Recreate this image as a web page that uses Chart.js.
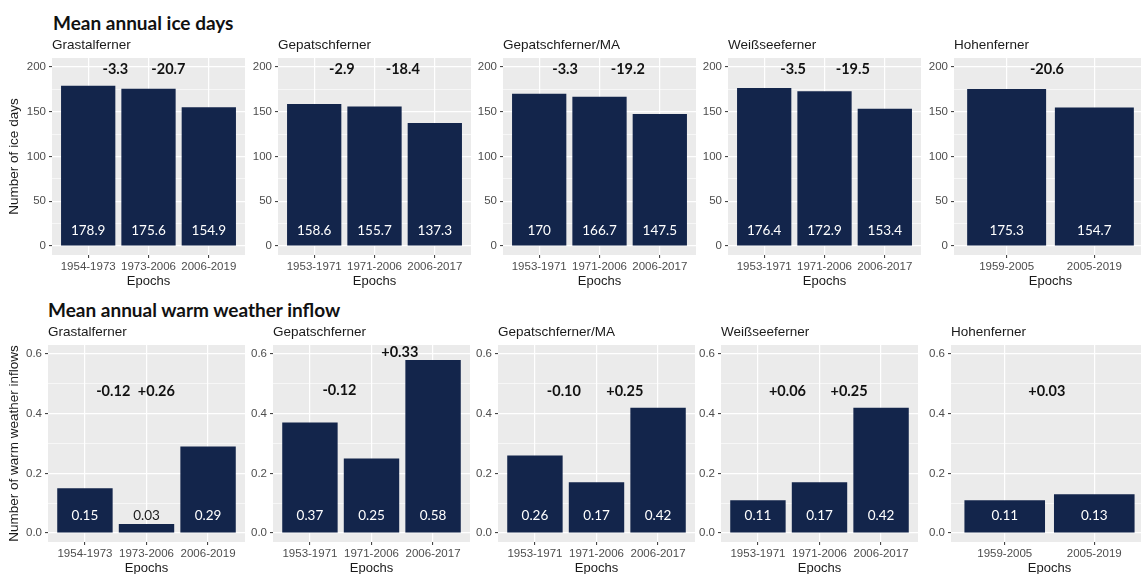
<!DOCTYPE html>
<html>
<head>
<meta charset="utf-8">
<script src="https://cdn.jsdelivr.net/npm/chart.js@4.4.1/dist/chart.umd.min.js"></script>
<style>
html, body { margin: 0; padding: 0; background: #fff; overflow: hidden; }
#wrap { position: relative; width: 1141px; height: 574px; overflow: hidden; }
canvas { position: absolute; }
.head { position: absolute; font-family: Lato, sans-serif; font-weight: 700; font-size: 19px; color: #111; white-space: nowrap; line-height: 1; }
</style>
</head>
<body>
<div id="wrap">
  <div class="head" style="left:53px;top:13px">Mean annual ice days</div>
  <div class="head" style="left:48px;top:300px">Mean annual warm weather inflow</div>
</div>
<script>
// glaciers and their epochs
var glaciers = ['Grastalferner', 'Gepatschferner', 'Gepatschferner/MA', 'Weißseeferner', 'Hohenferner'];
var epochs = [
    ['1954-1973', '1973-2006', '2006-2019'],
    ['1953-1971', '1971-2006', '2006-2017'],
    ['1953-1971', '1971-2006', '2006-2017'],
    ['1953-1971', '1971-2006', '2006-2017'],
    ['1959-2005', '2005-2019']
];

// mean annual ice days
var iceDays = [
    [178.9, 175.6, 154.9],
    [158.6, 155.7, 137.3],
    [170, 166.7, 147.5],
    [176.4, 172.9, 153.4],
    [175.3, 154.7]
];
var iceDiffs = [['-3.3', '-20.7'], ['-2.9', '-18.4'], ['-3.3', '-19.2'], ['-3.5', '-19.5'], ['-20.6']];
var iceDiffX = [[1.45, 2.33], [1.46, 2.47], [1.43, 2.47], [1.48, 2.47], [1.46]];
var iceDiffY = [[197, 197], [197, 197], [197, 197], [197, 197], [197]];
var iceTicks = [0, 50, 100, 150, 200];

// mean annual warm weather inflows
var warmInflows = [
    [0.15, 0.03, 0.29],
    [0.37, 0.25, 0.58],
    [0.26, 0.17, 0.42],
    [0.11, 0.17, 0.42],
    [0.11, 0.13]
];
var warmDiffs = [['-0.12', '+0.26'], ['-0.12', '+0.33'], ['-0.10', '+0.25'], ['+0.06', '+0.25'], ['+0.03']];
var warmDiffX = [[1.46, 2.16], [1.48, 2.46], [1.47, 2.46], [1.48, 2.48], [1.47]];
var warmDiffY = [[0.475, 0.475], [0.477, 0.607], [0.475, 0.475], [0.475, 0.475], [0.475]];
var warmTicks = [0, 0.2, 0.4, 0.6];

var NAVY = '#13254b';
var SANS = '"Liberation Sans", Arial, sans-serif';

// grey panel, panel name, value labels and differences
var panelText = {
    id: 'panelText',
    beforeDraw: function (chart, args, o) {
        var a = chart.chartArea, c = chart.ctx;
        c.save();
        c.fillStyle = '#ebebeb';
        c.fillRect(a.left, a.top, a.right - a.left, a.bottom - a.top);
        c.fillStyle = '#1a1a1a';
        c.font = '13.5px ' + SANS;
        c.textBaseline = 'middle';
        c.textAlign = 'left';
        c.fillText(o.name, a.left, a.top - 13);
        c.restore();
    },
    afterDatasetsDraw: function (chart, args, o) {
        var xs = chart.scales.x, ys = chart.scales.y, c = chart.ctx;
        c.save();
        c.textAlign = 'center';
        c.textBaseline = 'middle';
        c.font = '13.5px Lato, sans-serif';
        o.values.forEach(function (v, i) {
            c.fillStyle = v < o.valueY ? '#1a1a1a' : '#ffffff';
            c.fillText(o.fmt(v), xs.getPixelForValue(i + 1), ys.getPixelForValue(o.valueY));
        });
        c.font = 'bold 14.5px Lato, sans-serif';
        c.fillStyle = '#111';
        o.diffs.forEach(function (t, i) {
            c.fillText(t, xs.getPixelForValue(o.diffX[i]), ys.getPixelForValue(o.diffY[i]));
        });
        c.restore();
    }
};

function makePanel(p) {
    var axisW = p.first ? p.gridLeft : 50;
    var canvas = document.createElement('canvas');
    canvas.width = axisW + p.plotW;
    canvas.height = 28 + p.plotH + 38;
    canvas.style.left = (p.gridLeft - axisW) + 'px';
    canvas.style.top = (p.plotTop - 28) + 'px';
    canvas.style.width = canvas.width + 'px';
    canvas.style.height = canvas.height + 'px';
    document.getElementById('wrap').appendChild(canvas);

    var n = p.labels.length;
    var step = p.majors[1] - p.majors[0];
    var isMajor = function (v) {
        return Math.abs(v / step - Math.round(v / step)) < 1e-6;
    };

    new Chart(canvas.getContext('2d'), {
        type: 'bar',
        data: {
            datasets: [{
                data: p.values.map(function (v, i) { return { x: i + 1, y: v }; }),
                backgroundColor: NAVY,
                borderWidth: 0,
                barPercentage: 0.9,
                categoryPercentage: 1
            }]
        },
        options: {
            responsive: false,
            animation: false,
            layout: { padding: { top: 28, left: 0, right: 0, bottom: 0 } },
            plugins: {
                legend: { display: false },
                tooltip: { enabled: false },
                panelText: {
                    name: p.name, values: p.values, valueY: p.valueY, fmt: p.fmt,
                    diffs: p.diffs, diffX: p.diffX, diffY: p.diffY
                }
            },
            scales: {
                x: {
                    type: 'linear',
                    offset: false,
                    min: 0.4,
                    max: n + 0.6,
                    afterBuildTicks: function (s) {
                        s.ticks = p.labels.map(function (l, i) { return { value: i + 1 }; });
                    },
                    afterFit: function (s) { s.height = 38; },
                    ticks: {
                        autoSkip: false, maxRotation: 0, padding: 2,
                        color: '#4d4d4d', font: { family: SANS, size: 11.5 },
                        callback: function (v) { return p.labels[Math.round(v) - 1] || ''; }
                    },
                    grid: { offset: false, color: '#ffffff', lineWidth: 1.2, tickLength: 3, tickColor: '#333333', tickWidth: 1 },
                    border: { display: false },
                    title: {
                        display: true, text: 'Epochs', color: '#1a1a1a',
                        font: { family: SANS, size: 13 }, padding: { top: 0, bottom: 4 }
                    }
                },
                y: {
                    min: p.yMin,
                    max: p.yMax,
                    afterBuildTicks: function (s) {
                        var t = [];
                        for (var k = 0; k < p.majors.length; k++) {
                            t.push({ value: p.majors[k] });
                            if (k < p.majors.length - 1) t.push({ value: p.majors[k] + step / 2 });
                        }
                        s.ticks = t;
                    },
                    afterFit: function (s) { s.width = axisW; },
                    ticks: {
                        padding: 3, color: '#4d4d4d', font: { family: SANS, size: 11.5 },
                        callback: function (v) { return isMajor(v) ? p.fmtTick(v) : ''; }
                    },
                    grid: {
                        color: '#ffffff',
                        lineWidth: function (ctx) { return isMajor(ctx.tick.value) ? 1.2 : 0.6; },
                        tickLength: 3,
                        tickColor: function (ctx) { return isMajor(ctx.tick.value) ? '#333333' : 'rgba(0,0,0,0)'; },
                        tickWidth: 1
                    },
                    border: { display: false },
                    title: {
                        display: !!p.first, text: p.yTitle, color: '#1a1a1a',
                        font: { family: SANS, size: 13.5 }, padding: { top: 6.5, bottom: 0 }
                    }
                }
            }
        },
        plugins: [panelText]
    });
}

var topLefts = [52, 278, 503, 728, 954];
var bottomLefts = [48, 273, 498, 721, 951];

glaciers.forEach(function (g, i) {
    makePanel({
        first: i === 0, name: g, labels: epochs[i], values: iceDays[i],
        diffs: iceDiffs[i], diffX: iceDiffX[i], diffY: iceDiffY[i],
        gridLeft: topLefts[i], plotW: 193, plotTop: 58, plotH: 197,
        yMin: -10, yMax: 210, majors: iceTicks, valueY: 17,
        yTitle: 'Number of ice days',
        fmt: function (v) { return String(v); },
        fmtTick: function (v) { return String(v); }
    });
    makePanel({
        first: i === 0, name: g, labels: epochs[i], values: warmInflows[i],
        diffs: warmDiffs[i], diffX: warmDiffX[i], diffY: warmDiffY[i],
        gridLeft: bottomLefts[i], plotW: 197, plotTop: 345, plotH: 197,
        yMin: -0.03, yMax: 0.63, majors: warmTicks, valueY: 0.057,
        yTitle: 'Number of warm weather inflows',
        fmt: function (v) { return v.toFixed(2); },
        fmtTick: function (v) { return v.toFixed(1); }
    });
});
</script>
</body>
</html>
